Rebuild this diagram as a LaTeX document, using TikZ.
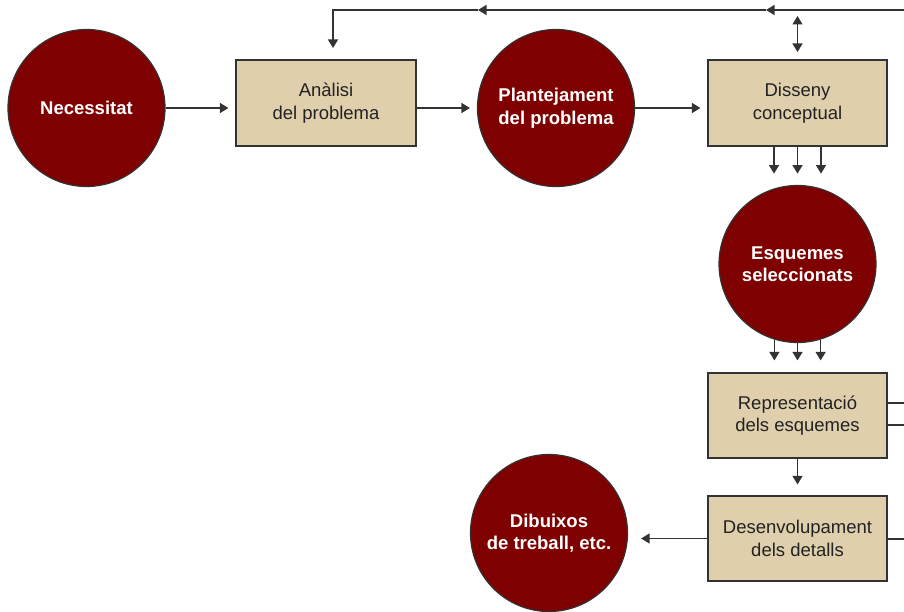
\documentclass[tikz,border=0pt]{standalone}
\usepackage{fontspec}
\setmainfont{Liberation Sans}
\usetikzlibrary{arrows.meta,calc}
\definecolor{maroon}{HTML}{7F0000}
\definecolor{tan}{HTML}{E0CFAC}
\definecolor{edge}{HTML}{333333}
\definecolor{txt}{HTML}{222222}
\begin{document}
\begin{tikzpicture}[x=1pt,y=-1pt,
  bubble/.style={circle,draw=edge,line width=1.2pt,fill=maroon,minimum size=157pt,inner sep=0pt,
    text=white,font=\fontsize{18.5}{22.5}\selectfont\bfseries,align=center},
  stepbox/.style={rectangle,draw=edge,line width=1.2pt,fill=tan,inner sep=0pt,
    text=txt,font=\fontsize{18.5}{22.5}\selectfont,align=center},
  conn/.style={draw=edge,line width=1.4pt},
  arr/.style={conn,-{Triangle[length=8.5pt,width=10pt]}},
  darr/.style={conn,{Triangle[length=8.5pt,width=10pt]}-{Triangle[length=8.5pt,width=10pt]}}]
\useasboundingbox (0,0) rectangle (904,612);

\node[bubble] (nec) at (86.5,108) {Necessitat};
\node[stepbox,minimum width=180pt,minimum height=86pt] (ana) at (326,103) {Anàlisi\\del problema};
\node[bubble] (pla) at (556,108) {Plantejament\\del problema};
\node[stepbox,minimum width=179pt,minimum height=86pt] (dis) at (797.5,103) {Disseny\\conceptual};
\node[bubble] (esq) at (797.5,264) {Esquemes\\seleccionats};
\node[stepbox,minimum width=179pt,minimum height=85pt] (rep) at (797.5,415.5) {Representació\\dels esquemes};
\node[stepbox,minimum width=179pt,minimum height=85pt] (des) at (797.5,538.5) {Desenvolupament\\dels detalls};
\node[bubble] (dib) at (549,533) {Dibuixos\\de treball, etc.};

% horizontal flow
\draw[arr,shorten >=7pt] (nec.east) -- (nec.east -| ana.west);
\draw[arr,shorten >=7pt] (pla.west -| ana.east) -- (pla.west);
\draw[arr,shorten >=7pt] (pla.east) -- (pla.east -| dis.west);

% top feedback line
\coordinate (tr) at (904,10);
\coordinate (m1) at (766,10);
\coordinate (m2) at (478,10);
\coordinate (tl) at (333,10);
\coordinate (td) at (333,48);
\draw[arr] (tr) -- (m1);
\draw[arr] (m1) -- (m2);
\draw[arr] (m2) -- (tl) -- (td);
\coordinate (da) at (797.5,16);
\coordinate (db) at (797.5,52);
\draw[darr] (da) -- (db);

% disseny -> esquemes
\foreach \dx in {-23.5,0,23.5}{
  \draw[arr] ($(dis.south)+(\dx,0)$) -- ++(0,27);
}
% esquemes -> representacio
\draw[arr,shorten >=12pt] (esq.253) -- (esq.253 |- rep.north);
\draw[arr,shorten >=12pt] (esq.270) -- (esq.270 |- rep.north);
\draw[arr,shorten >=12pt] (esq.287) -- (esq.287 |- rep.north);

% representacio -> desenvolupament
\draw[arr,shorten >=11pt] (rep.south) -- (des.north);
% desenvolupament -> dibuixos
\draw[arr,shorten >=13pt] (des.west) -- (des.west -| dib.east);

% right stubs
\coordinate (r1) at (904,403);
\coordinate (r2) at (904,425);
\coordinate (r3) at (904,539);
\draw[conn] (r1 -| rep.east) -- (r1);
\draw[conn] (r2 -| rep.east) -- (r2);
\draw[conn] (r3 -| des.east) -- (r3);
\end{tikzpicture}
\end{document}
